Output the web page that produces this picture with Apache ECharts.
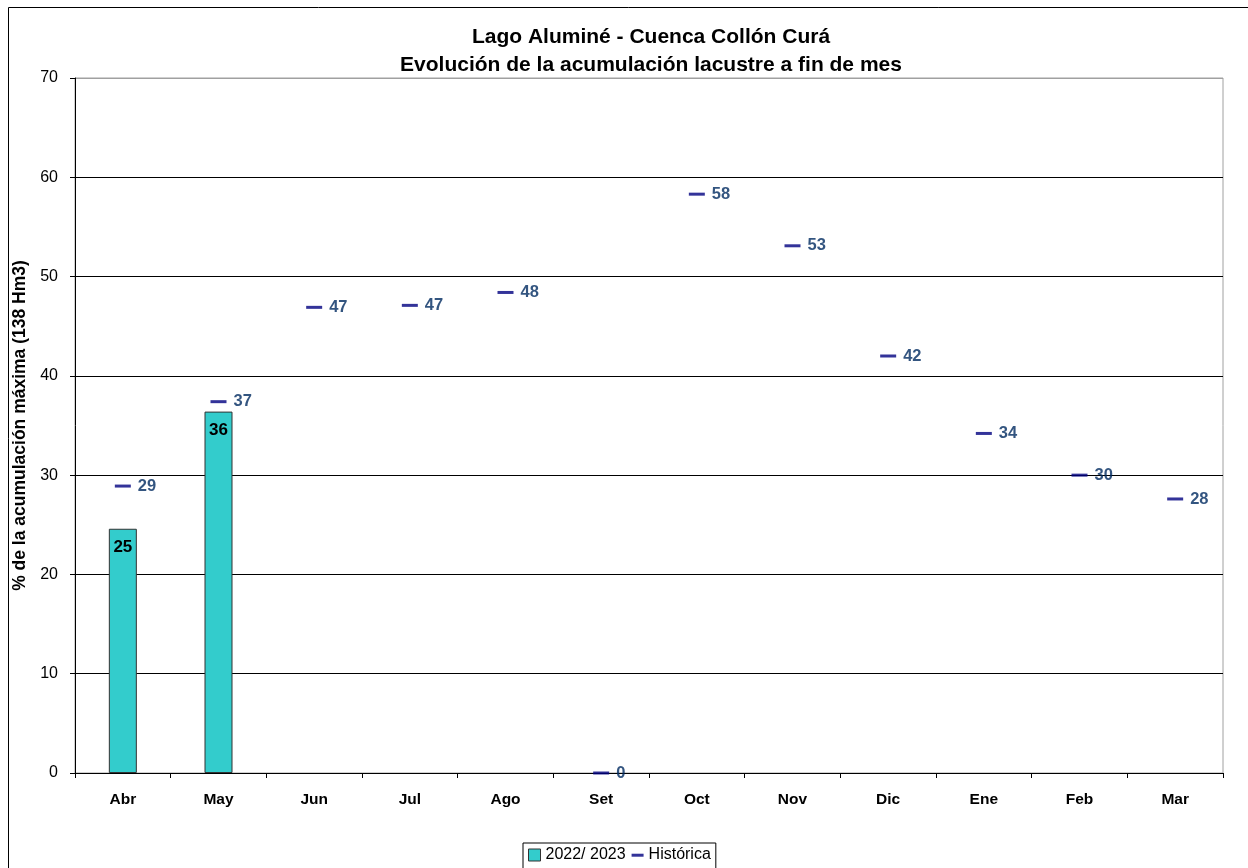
<!DOCTYPE html>
<html>
<head>
<meta charset="utf-8">
<script src="https://cdn.jsdelivr.net/npm/echarts@6/dist/echarts.min.js"></script>
<style>
  html, body { margin: 0; padding: 0; background: #ffffff; }
  #chart { width: 1248px; height: 868px; }
</style>
</head>
<body>
<div id="chart"></div>
<script>
// Months of the hydrological year (April to March)
const months = ['Abr', 'May', 'Jun', 'Jul', 'Ago', 'Set', 'Oct', 'Nov', 'Dic', 'Ene', 'Feb', 'Mar'];
// Current season storage, % of maximum (only months observed so far)
const current = [24.6, 36.4, null, null, null, null, null, null, null, null, null, null];
// Historical average storage, % of maximum
const historical = [28.9, 37.4, 46.9, 47.1, 48.4, 0, 58.3, 53.1, 42.0, 34.2, 30.0, 27.6];
// Y axis ticks
const yTicks = [0, 10, 20, 30, 40, 50, 60, 70];

const FONT = 'Arial, "Liberation Sans", sans-serif';
const chart = echarts.init(document.getElementById('chart'), null, { renderer: 'canvas' });

// Horizontal grid lines: black, except the top edge which is part of the grey frame
const splitColors = yTicks.map((t, i) => (i === yTicks.length - 1 ? '#a0a0a0' : '#000000'));

chart.setOption({
  animation: false,
  backgroundColor: '#ffffff',
  textStyle: { fontFamily: FONT },
  title: {
    text: 'Lago Aluminé - Cuenca Collón Curá\nEvolución de la acumulación lacustre a fin de mes',
    left: 646,
    textAlign: 'center',
    top: 18,
    textStyle: { fontFamily: FONT, fontSize: 21, fontWeight: 'bold', color: '#000', lineHeight: 28 }
  },
  graphic: [{
    type: 'rect',
    shape: { x: 8.5, y: 7.5, width: 1300, height: 1000 },
    style: { fill: 'none', stroke: '#000', lineWidth: 1 },
    silent: true,
    z: -1
  }],
  legend: {
    left: 523,
    top: 843,
    padding: [4, 5, 8, 5],
    itemGap: 6,
    itemWidth: 12,
    itemHeight: 12,
    borderColor: '#000',
    borderWidth: 1,
    textStyle: { fontFamily: FONT, fontSize: 16, color: '#000' },
    data: [
      { name: '2022/ 2023', icon: 'rect', itemStyle: { color: '#33cccc', borderColor: '#333', borderWidth: 1 } },
      { name: 'Histórica', icon: 'path://M0,0M0,4.5L14,4.5L14,8L0,8ZM14,12', itemStyle: { color: '#000080' } }
    ]
  },
  grid: {
    left: 75, right: 25, top: 78, bottom: 95,
    show: true, borderColor: '#a0a0a0', borderWidth: 1, backgroundColor: 'transparent'
  },
  xAxis: {
    type: 'category',
    data: months,
    boundaryGap: true,
    axisLine: { lineStyle: { color: '#000', width: 1 } },
    axisTick: { show: true, length: 5, inside: false, lineStyle: { color: '#000' } },
    axisLabel: { margin: 19, fontFamily: FONT, fontSize: 15.5, fontWeight: 'bold', color: '#000' }
  },
  yAxis: {
    type: 'value',
    min: 0, max: 70, interval: 10,
    name: '% de la acumulación máxima (138 Hm3)',
    nameLocation: 'middle',
    nameGap: 44,
    nameTextStyle: { fontFamily: FONT, fontSize: 17.5, fontWeight: 'bold', color: '#000' },
    axisLine: { show: true, lineStyle: { color: '#000', width: 1 } },
    axisTick: { show: true, length: 5, lineStyle: { color: '#000' } },
    axisLabel: { margin: 17, fontFamily: FONT, fontSize: 16, color: '#000' },
    splitLine: { show: true, lineStyle: { color: splitColors, width: 1 } }
  },
  series: [
    {
      name: '2022/ 2023',
      type: 'bar',
      data: current,
      barWidth: 28,
      itemStyle: { color: '#33cccc', borderColor: '#333', borderWidth: 1 },
      label: {
        show: true,
        position: 'insideTop',
        distance: 10,
        formatter: p => Math.round(p.value),
        fontFamily: FONT, fontSize: 17, fontWeight: 'bold', color: '#000'
      },
      z: 2
    },
    {
      name: 'Histórica',
      type: 'scatter',
      data: historical,
      symbol: 'rect',
      symbolSize: [16, 3],
      itemStyle: { color: '#000080' },
      label: {
        show: true,
        position: 'right',
        distance: 7,
        formatter: p => Math.round(p.value),
        fontFamily: FONT, fontSize: 16.5, fontWeight: 'bold', color: '#002a60'
      },
      z: 3
    }
  ]
});
</script>
</body>
</html>
